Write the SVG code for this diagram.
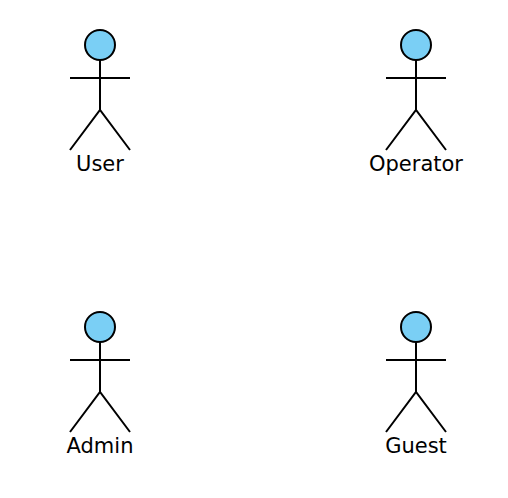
<svg xmlns="http://www.w3.org/2000/svg" width="508" height="498" viewBox="0 0 508 498">
<style>
.head{fill:#7ACFF5;stroke:#000;stroke-width:2}
.body{fill:none;stroke:#000;stroke-width:2}
text{font-family:"DejaVu Sans",sans-serif;font-size:21px;fill:#000;text-anchor:middle}
</style>
<defs>
<g id="actor">
<circle class="head" cx="0" cy="15" r="15"/>
<path class="body" d="M0 30V80M-30 48H30M-30 120L0 80L30 120"/>
</g>
</defs>
<rect width="508" height="498" fill="#fff"/>
<g id="user"><use href="#actor" x="100" y="30"/><text x="100" y="171">User</text></g>
<g id="operator"><use href="#actor" x="416" y="30"/><text x="416" y="171">Operator</text></g>
<g id="admin"><use href="#actor" x="100" y="312"/><text x="100" y="453">Admin</text></g>
<g id="guest"><use href="#actor" x="416" y="312"/><text x="416" y="453">Guest</text></g>
<g id="connectors"></g>
</svg>
